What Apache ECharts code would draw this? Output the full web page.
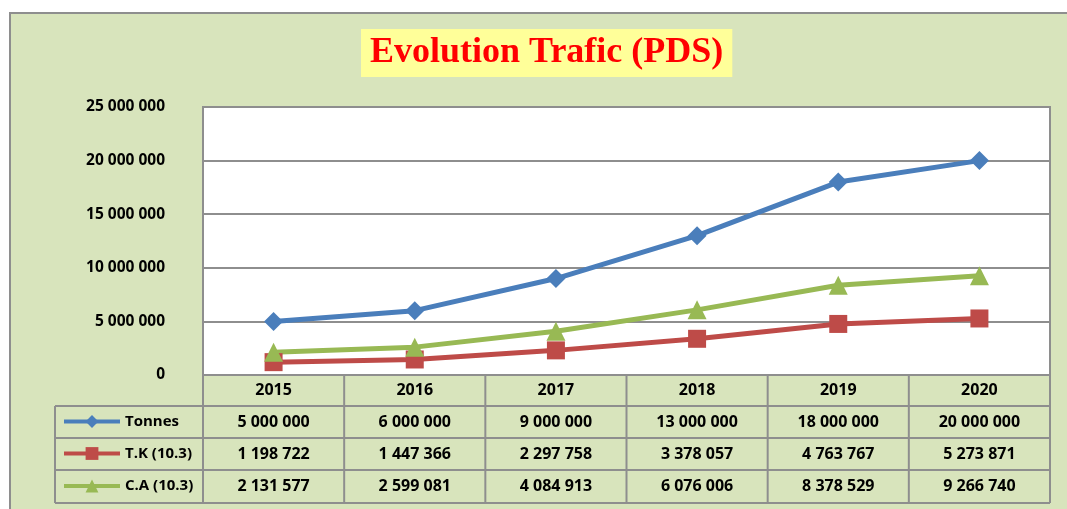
<!DOCTYPE html>
<html>
<head>
<meta charset="utf-8">
<script src="https://cdn.jsdelivr.net/npm/echarts@6/dist/echarts.min.js"></script>
<style>
  html, body { margin: 0; padding: 0; background: #fff; }
  #chart { width: 1067px; height: 509px; }
</style>
</head>
<body>
<div id="chart"></div>
<script>
// data
var years = ['2015', '2016', '2017', '2018', '2019', '2020']
var seriesNames = ['Tonnes', 'T.K (10.3)', 'C.A (10.3)']
var tonnes = [5000000, 6000000, 9000000, 13000000, 18000000, 20000000]
var tk = [1198722, 1447366, 2297758, 3378057, 4763767, 5273871]
var ca = [2131577, 2599081, 4084913, 6076006, 8378529, 9266740]
var yMax = 25000000
var yStep = 5000000

var colors = ['#4A7EBB', '#BE4B48', '#98B954']
var symbols = ['diamond', 'rect', 'triangle']
var gridLine = '#8E8E8E'
var font = 'Open Sans'

// layout
var G = { left: 203, top: 107, right: 17, height: 268 }
var rowH = [31, 32, 32, 33]
var tableLeft = 55

function fmt(v) {
  return String(v).replace(/\B(?=(\d{3})+(?!\d))/g, ' ')
}

var chart = echarts.init(document.getElementById('chart'))
var allData = [tonnes, tk, ca]

var rowTops = [G.top + G.height]
rowH.forEach(function(h, i) { rowTops.push(rowTops[i] + h) })

chart.setOption({
  animation: false,
  title: {
    text: 'Evolution Trafic (PDS)',
    left: 361,
    top: 29,
    backgroundColor: '#FFFF99',
    padding: [6, 9, 6, 9],
    textStyle: {
      color: '#FF0000',
      fontFamily: 'Liberation Serif',
      fontWeight: 'bold',
      fontSize: 36
    }
  },
  legend: seriesNames.map(function(name, i) {
    return {
      data: [name],
      left: 62,
      top: rowTops[i + 1] + rowH[i + 1] / 2 - 8,
      itemWidth: 56,
      itemHeight: 16,
      itemGap: 0,
      padding: 0,
      selectedMode: false,
      lineStyle: { width: 4 },
      textStyle: { fontFamily: font, fontWeight: 'bold', fontSize: 15, color: '#000' }
    }
  }),
  grid: {
    left: G.left,
    top: G.top,
    right: G.right,
    height: G.height,
    show: true,
    backgroundColor: '#fff',
    borderColor: gridLine,
    borderWidth: 2
  },
  xAxis: {
    type: 'category',
    data: years,
    axisLine: { show: false },
    axisTick: { show: false },
    axisLabel: {
      margin: 7,
      fontFamily: font,
      fontWeight: 'bold',
      fontSize: 16,
      color: '#000'
    }
  },
  yAxis: {
    type: 'value',
    min: 0,
    max: yMax,
    interval: yStep,
    axisLine: { show: false },
    axisTick: { show: false },
    axisLabel: {
      margin: 38,
      fontFamily: font,
      fontWeight: 'bold',
      fontSize: 15.5,
      color: '#000',
      formatter: fmt
    },
    splitLine: { lineStyle: { color: gridLine, width: 2 } }
  },
  series: seriesNames.map(function(name, i) {
    return {
      name: name,
      type: 'line',
      data: allData[i],
      color: colors[i],
      symbol: symbols[i],
      symbolSize: i === 1 ? 18 : 19,
      lineStyle: { width: 5, color: colors[i] },
      itemStyle: { color: colors[i] }
    }
  })
})

// table under the plot, positioned from the axis itself
var c0 = chart.convertToPixel({ xAxisIndex: 0 }, 0)
var c1 = chart.convertToPixel({ xAxisIndex: 0 }, 1)
var band = c1 - c0
var plotRight = 1067 - G.right
var elems = []

elems.push({
  type: 'rect', z: -10, silent: true,
  shape: { x: 10, y: 13, width: 1100, height: 520 },
  style: { fill: '#D8E4BC', stroke: gridLine, lineWidth: 2 }
})

function line(x1, y1, x2, y2) {
  elems.push({
    type: 'line', silent: true,
    shape: { x1: x1, y1: y1, x2: x2, y2: y2 },
    style: { stroke: gridLine, lineWidth: 2 }
  })
}

var bottom = rowTops[rowTops.length - 1]
for (var r = 1; r < rowTops.length; r++) line(tableLeft, rowTops[r], plotRight, rowTops[r])
line(tableLeft, rowTops[1], tableLeft, bottom)
for (var k = 0; k <= years.length; k++) {
  var x = c0 - band / 2 + k * band
  line(x, rowTops[0], x, bottom)
}

allData.forEach(function(arr, i) {
  arr.forEach(function(v, j) {
    elems.push({
      type: 'text', silent: true,
      x: chart.convertToPixel({ xAxisIndex: 0 }, j),
      y: rowTops[i + 1] + rowH[i + 1] / 2,
      style: {
        text: fmt(v),
        align: 'center',
        verticalAlign: 'middle',
        font: 'bold 16px ' + font,
        fill: '#000'
      }
    })
  })
})

chart.setOption({ graphic: { elements: elems } })
</script>
</body>
</html>
